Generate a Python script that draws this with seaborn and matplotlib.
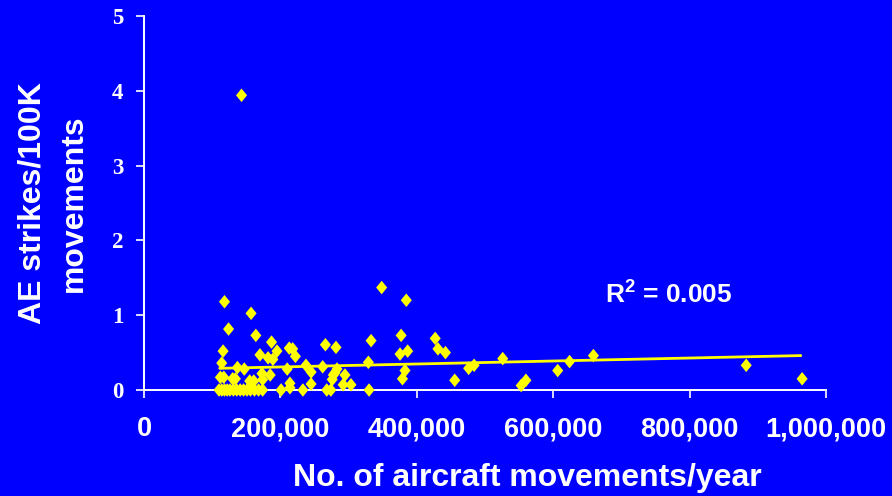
import matplotlib
matplotlib.use("Agg")
import matplotlib.pyplot as plt
import seaborn as sns
import pandas as pd

# ---- data ----
movements_k = [
    118, 157, 124, 164, 187, 116, 195, 213, 218, 222, 170, 182, 189, 114, 137,
    147, 210, 173, 185, 112, 117, 130, 134, 155, 161, 174, 214, 201, 214,
    110, 114, 118, 122, 126, 131, 136, 141, 146, 151, 156, 162, 168, 174,
    233, 268, 274, 330,
    348.5, 384.6, 266, 281.5, 333, 377, 427, 375.4, 386.6, 431, 442, 237.5,
    245, 262, 283, 280, 277.6, 276, 294.7, 245, 329, 382.7, 379, 292, 303.5,
    455.6, 476, 484,
    526, 553, 560, 606.6, 624, 659, 883, 965,
    143,
]
strikes = [
    1.18, 1.025, 0.815, 0.73, 0.64, 0.52, 0.52, 0.56, 0.55, 0.45, 0.47, 0.43, 0.41, 0.36, 0.30,
    0.28, 0.28, 0.22, 0.20, 0.17, 0.17, 0.15, 0.15, 0.12, 0.12, 0.14, 0.09, 0.0, 0.03,
    0.0, 0.0, 0.0, 0.0, 0.0, 0.0, 0.0, 0.0, 0.0, 0.0, 0.0, 0.0, 0.0, 0.0,
    0.0, 0.0, 0.0, 0.0,
    1.37, 1.20, 0.605, 0.57, 0.66, 0.73, 0.69, 0.48, 0.52, 0.55, 0.50, 0.33,
    0.24, 0.31, 0.28, 0.23, 0.20, 0.14, 0.20, 0.08, 0.37, 0.26, 0.15, 0.07, 0.07,
    0.13, 0.29, 0.33,
    0.42, 0.06, 0.13, 0.26, 0.38, 0.46, 0.33, 0.15,
    3.94,
]
trend_x = [111000, 963000]
trend_y = [0.29, 0.46]
x_ticks = [0, 200000, 400000, 600000, 800000, 1000000]
x_tick_labels = ["0", "200,000", "400,000", "600,000", "800,000", "1,000,000"]
y_ticks = [0, 1, 2, 3, 4, 5]
y_tick_labels = ["0", "1", "2", "3", "4", "5"]
r2_label = r"R$^{\mathbf{2}}$ = 0.005"
x_title = "No. of aircraft movements/year"
y_title = "AE strikes/100K\nmovements"

# ---- style ----
sns.set_theme(style="ticks")
plt.rcParams["font.family"] = ["Liberation Sans", "DejaVu Sans"]
plt.rcParams["mathtext.fontset"] = "custom"
plt.rcParams["mathtext.bf"] = "Liberation Sans:bold"
plt.rcParams["mathtext.rm"] = "Liberation Sans:bold"
plt.rcParams["mathtext.it"] = "Liberation Sans:bold"

BLUE = "#0000FF"
YELLOW = "#FFFF00"
WHITE = "#FFFFFF"

fig = plt.figure(figsize=(8.92, 4.96), dpi=100, facecolor=BLUE)
ax = fig.add_axes([144 / 892, 1 - 390 / 496, 682 / 892, 374 / 496])
ax.set_facecolor(BLUE)

df = pd.DataFrame({"movements": [v * 1000 for v in movements_k], "strikes": strikes})
trend = pd.DataFrame({"x": trend_x, "y": trend_y})

# slightly tall diamond, as in the reference
diamond = [(0, 1.1), (0.9, 0), (0, -1.1), (-0.9, 0), (0, 1.1)]

sns.lineplot(data=trend, x="x", y="y", ax=ax, color=YELLOW, linewidth=2.0, zorder=2)
sns.scatterplot(data=df, x="movements", y="strikes", ax=ax, marker=diamond, s=95,
                color=YELLOW, edgecolor="none", linewidth=0, clip_on=False, zorder=3)

ax.set_xlim(0, 1000000)
ax.set_ylim(0, 5)
ax.set_xlabel("")
ax.set_ylabel("")
ax.set_xticks(x_ticks)
ax.set_xticklabels(x_tick_labels, fontsize=19.5, fontweight="bold", color=WHITE,
                   fontfamily="Liberation Sans")
ax.set_yticks(y_ticks)
ax.set_yticklabels(y_tick_labels, fontsize=16.5, fontweight="bold", color=WHITE,
                   fontfamily="Liberation Serif")

for side in ["top", "right"]:
    ax.spines[side].set_visible(False)
for side in ["left", "bottom"]:
    ax.spines[side].set_color(WHITE)
    ax.spines[side].set_linewidth(1.4)
ax.tick_params(axis="both", direction="out", length=6, width=1.2, color=WHITE)
ax.tick_params(axis="x", pad=13)
ax.tick_params(axis="y", pad=9)
ax.grid(False)

ax.text(676000, 1.16, r2_label, fontsize=19, fontweight="bold", color=WHITE,
        ha="left", va="baseline")

fig.text(527 / 892, 1 - 486 / 496, x_title, fontsize=23, fontweight="bold",
         color=WHITE, ha="center", va="baseline")
fig.text(53 / 892, 1 - 203 / 496, y_title, fontsize=23, fontweight="bold",
         color=WHITE, ha="center", va="center", rotation=90,
         multialignment="center", linespacing=1.5)

fig.savefig("out.png", dpi=100, facecolor=BLUE)
